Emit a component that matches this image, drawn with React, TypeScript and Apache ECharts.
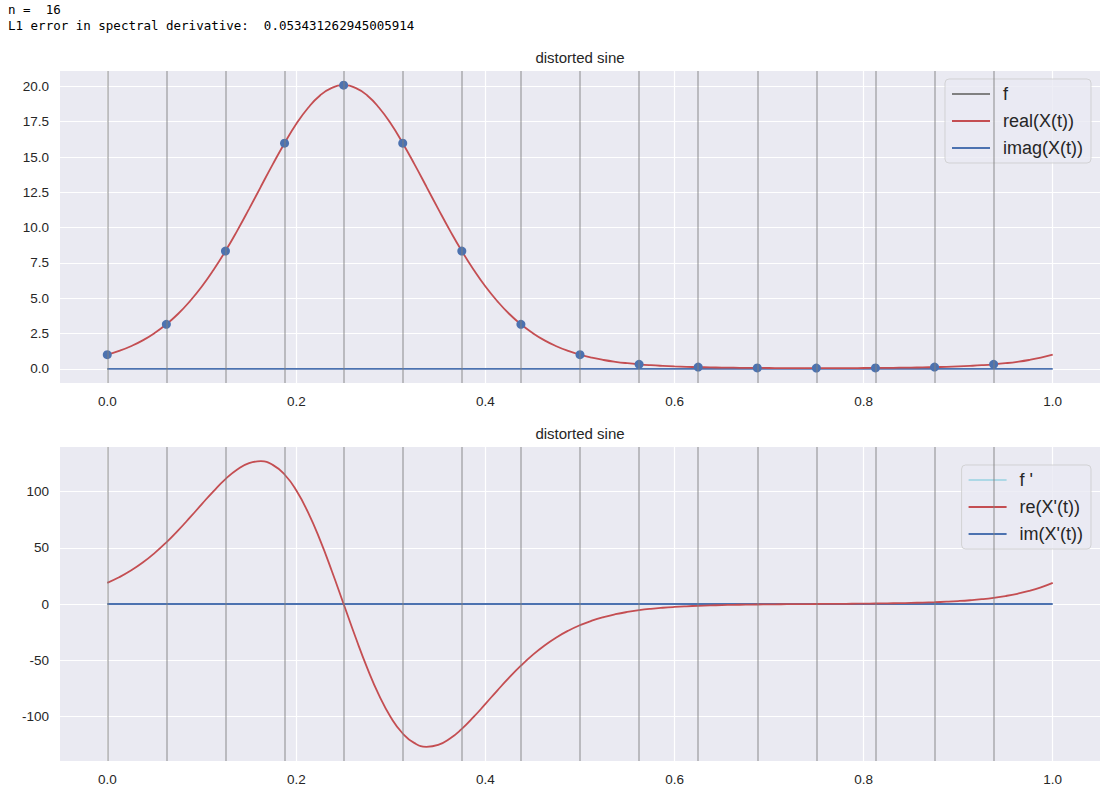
import React, { useEffect, useRef } from "react";
import * as echarts from "echarts";

const headerLines = ["n =  16", "L1 error in spectral derivative:  0.053431262945005914"];
const titleText = "distorted sine";

const sampleT = [0, 0.0625, 0.125, 0.1875, 0.25, 0.3125, 0.375, 0.4375, 0.5, 0.5625, 0.625, 0.6875, 0.75, 0.8125, 0.875, 0.9375];
const sampleF = [1.0, 3.15, 8.34, 15.98, 20.09, 15.98, 8.34, 3.15, 1.0, 0.32, 0.12, 0.063, 0.05, 0.063, 0.12, 0.32];

const curveT = [
  0, 0.0125, 0.025, 0.0375, 0.05, 0.0625, 0.075, 0.0875, 0.1, 0.1125,
  0.125, 0.1375, 0.15, 0.1625, 0.175, 0.1875, 0.2, 0.2125, 0.225, 0.2375,
  0.25, 0.2625, 0.275, 0.2875, 0.3, 0.3125, 0.325, 0.3375, 0.35, 0.3625,
  0.375, 0.3875, 0.4, 0.4125, 0.425, 0.4375, 0.45, 0.4625, 0.475, 0.4875,
  0.5, 0.5125, 0.525, 0.5375, 0.55, 0.5625, 0.575, 0.5875, 0.6, 0.6125,
  0.625, 0.6375, 0.65, 0.6625, 0.675, 0.6875, 0.7, 0.7125, 0.725, 0.7375,
  0.75, 0.7625, 0.775, 0.7875, 0.8, 0.8125, 0.825, 0.8375, 0.85, 0.8625,
  0.875, 0.8875, 0.9, 0.9125, 0.925, 0.9375, 0.95, 0.9625, 0.975, 0.9875,
  1.0,
];
const realX = [
  1.0, 1.265, 1.6, 2.014, 2.53, 3.152, 3.9, 4.795, 5.83, 7.02,
  8.34, 9.79, 11.33, 12.91, 14.48, 15.98, 17.35, 18.49, 19.36, 19.9,
  20.09, 19.9, 19.36, 18.49, 17.35, 15.98, 14.48, 12.91, 11.33, 9.79,
  8.34, 7.02, 5.83, 4.795, 3.9, 3.152, 2.53, 2.014, 1.6, 1.265,
  1.0, 0.79, 0.625, 0.496, 0.396, 0.317, 0.256, 0.209, 0.171, 0.1425,
  0.12, 0.102, 0.088, 0.0775, 0.069, 0.0626, 0.058, 0.0541, 0.052, 0.0502,
  0.0498, 0.0502, 0.052, 0.0541, 0.058, 0.0626, 0.069, 0.0775, 0.088, 0.102,
  0.12, 0.1425, 0.171, 0.209, 0.256, 0.317, 0.396, 0.496, 0.625, 0.79,
  1.0,
];
const realDX = [
  18.85, 23.78, 29.77, 36.92, 45.3, 54.89, 65.57, 77.06, 88.94, 100.59,
  111.2, 119.83, 125.5, 127.15, 123.9, 115.31, 101.1, 81.35, 57.07, 29.43,
  0, -29.43, -57.07, -81.35, -101.1, -115.31, -123.9, -127.15, -125.5, -119.83,
  -111.2, -100.59, -88.94, -77.06, -65.57, -54.89, -45.3, -36.92, -29.77, -23.78,
  -18.85, -14.85, -11.64, -9.1, -7.1, -5.53, -4.3, -3.35, -2.61, -2.04,
  -1.6, -1.25, -0.98, -0.76, -0.59, -0.45, -0.34, -0.24, -0.15, -0.07,
  0, 0.07, 0.15, 0.24, 0.34, 0.45, 0.59, 0.76, 0.98, 1.25,
  1.6, 2.04, 2.61, 3.35, 4.3, 5.53, 7.1, 9.1, 11.64, 14.85,
  18.85,
];

const imagT = [0, 1];
const imagX = [0, 0];
const imagDX = [0, 0];

const xTicks = [0, 0.2, 0.4, 0.6, 0.8, 1.0];
const yTicksTop = [0, 2.5, 5, 7.5, 10, 12.5, 15, 17.5, 20];
const yTicksBottom = [-100, -50, 0, 50, 100];

const topNames = ["f", "real(X(t))", "imag(X(t))"];
const bottomNames = ["f '", "re(X'(t))", "im(X'(t))"];

const FONT = "'Liberation Sans', Arial, sans-serif";
const RED = "#c44e52";
const BLUE = "#4c72b0";
const GRAY = "#808080";
const LIGHTBLUE = "#add8e6";
const TEXT = "#262626";

const zip = (xs: number[], ys: number[]) => xs.map((x, i) => [x, ys[i]]);

function xAxisCfg(gridIndex: number) {
  return {
    type: "value",
    gridIndex,
    min: -0.05,
    max: 1.05,
    axisLine: { show: false },
    axisTick: { show: false, customValues: xTicks },
    axisLabel: {
      customValues: xTicks,
      formatter: (v: number) => v.toFixed(1),
      color: TEXT,
      fontSize: 13.5,
      fontFamily: FONT,
      margin: 11,
    },
    splitLine: { show: true, lineStyle: { color: "#ffffff", width: 1.2 } },
  };
}

function yAxisCfg(gridIndex: number, min: number, max: number, ticks: number[], digits: number) {
  return {
    type: "value",
    gridIndex,
    min,
    max,
    axisLine: { show: false },
    axisTick: { show: false, customValues: ticks },
    axisLabel: {
      customValues: ticks,
      formatter: (v: number) => v.toFixed(digits),
      color: TEXT,
      fontSize: 13.5,
      fontFamily: FONT,
      margin: 11,
    },
    splitLine: { show: true, lineStyle: { color: "#ffffff", width: 1.2 } },
  };
}

function legendCfg(names: string[], top: number) {
  return {
    data: names,
    orient: "vertical",
    right: 20,
    top,
    icon: "rect",
    itemWidth: 38,
    itemHeight: 2,
    itemGap: 7,
    padding: [5, 8, 5, 7],
    backgroundColor: "rgba(234,234,242,0.8)",
    borderColor: "rgba(204,204,204,0.8)",
    borderWidth: 1,
    borderRadius: 4,
    selectedMode: false,
    textStyle: { fontSize: 18, color: TEXT, fontFamily: FONT, lineHeight: 20, padding: [0, 0, 0, 8] },
  };
}

function vlines() {
  return {
    silent: true,
    precision: 6,
    symbol: ["none", "none"],
    label: { show: false },
    lineStyle: { color: "rgba(128,128,128,0.45)", width: 2, type: "solid" },
    data: sampleT.map((t) => ({ xAxis: t })),
  };
}

export default function App() {
  const ref = useRef<HTMLDivElement>(null);
  useEffect(() => {
    if (!ref.current) return;
    const chart = echarts.init(ref.current, undefined, { renderer: "svg" });
    chart.setOption({
      animation: false,
      backgroundColor: "#ffffff",
      grid: [
        { left: 60, right: 11, top: 71, height: 312, show: true, backgroundColor: "#eaeaf2", borderWidth: 0 },
        { left: 60, right: 11, top: 447, height: 314, show: true, backgroundColor: "#eaeaf2", borderWidth: 0 },
      ],
      xAxis: [xAxisCfg(0), xAxisCfg(1)],
      yAxis: [
        yAxisCfg(0, -1.0045, 21.094, yTicksTop, 1),
        yAxisCfg(1, -139.8, 139.8, yTicksBottom, 0),
      ],
      legend: [legendCfg(topNames, 79), legendCfg(bottomNames, 465)],
      graphic: [
        {
          type: "text",
          left: 8,
          top: 1,
          style: {
            text: headerLines.join("\n"),
            font: "12.5px 'DejaVu Sans Mono', monospace",
            fill: "#000000",
            lineHeight: 16,
          },
        },
        {
          type: "text",
          x: 580,
          y: 57,
          style: { text: titleText, fontSize: 15, fontFamily: FONT, fill: TEXT, align: "center", verticalAlign: "middle" },
        },
        {
          type: "text",
          x: 580,
          y: 433,
          style: { text: titleText, fontSize: 15, fontFamily: FONT, fill: TEXT, align: "center", verticalAlign: "middle" },
        },
      ],
      series: [
        {
          name: topNames[0],
          type: "line",
          xAxisIndex: 0,
          yAxisIndex: 0,
          data: [],
          z: 1,
          itemStyle: { color: GRAY },
          lineStyle: { color: GRAY },
          markLine: vlines(),
        },
        {
          name: topNames[1],
          type: "line",
          xAxisIndex: 0,
          yAxisIndex: 0,
          data: zip(curveT, realX),
          smooth: true,
          showSymbol: false,
          z: 3,
          itemStyle: { color: RED },
          lineStyle: { color: RED, width: 1.8 },
        },
        {
          name: topNames[2],
          type: "line",
          xAxisIndex: 0,
          yAxisIndex: 0,
          data: zip(imagT, imagX),
          showSymbol: false,
          z: 2,
          itemStyle: { color: BLUE },
          lineStyle: { color: BLUE, width: 1.8 },
        },
        {
          name: "samples",
          type: "scatter",
          xAxisIndex: 0,
          yAxisIndex: 0,
          data: zip(sampleT, sampleF),
          symbolSize: 9,
          z: 4,
          itemStyle: { color: BLUE, opacity: 1 },
        },
        {
          name: bottomNames[0],
          type: "line",
          xAxisIndex: 1,
          yAxisIndex: 1,
          data: [],
          z: 1,
          itemStyle: { color: LIGHTBLUE },
          lineStyle: { color: LIGHTBLUE },
          markLine: vlines(),
        },
        {
          name: bottomNames[1],
          type: "line",
          xAxisIndex: 1,
          yAxisIndex: 1,
          data: zip(curveT, realDX),
          smooth: true,
          showSymbol: false,
          z: 3,
          itemStyle: { color: RED },
          lineStyle: { color: RED, width: 1.8 },
        },
        {
          name: bottomNames[2],
          type: "line",
          xAxisIndex: 1,
          yAxisIndex: 1,
          data: zip(imagT, imagDX),
          showSymbol: false,
          z: 2,
          itemStyle: { color: BLUE },
          lineStyle: { color: BLUE, width: 1.8 },
        },
      ],
    });
    return () => chart.dispose();
  }, []);
  return (
    <div
      ref={ref}
      style={{ position: "absolute", left: 0, top: 0, width: 1111, height: 792 }}
    />
  );
}
